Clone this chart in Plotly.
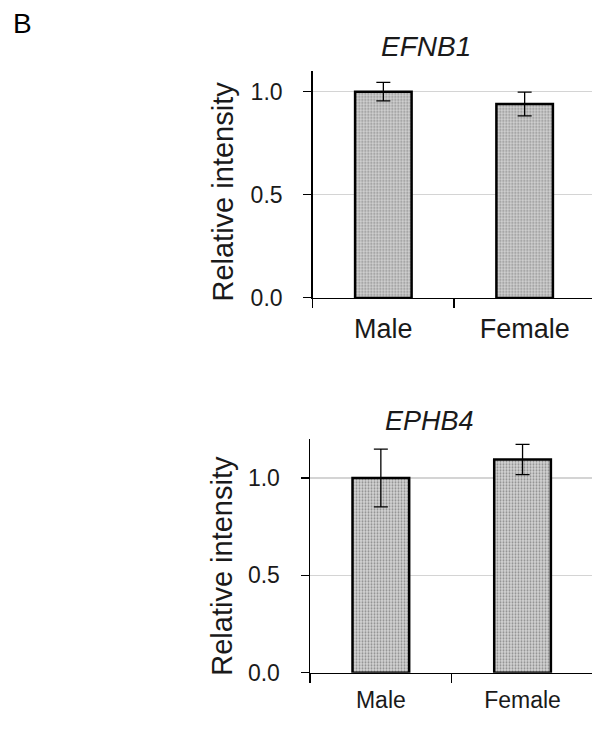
import plotly.graph_objects as go

categories = ["Male", "Female"]
efnb1_values = [1.00, 0.94]
efnb1_errors = [0.045, 0.058]
ephb4_values = [1.00, 1.095]
ephb4_errors = [0.148, 0.078]
y_tick_vals = [0.0, 0.5, 1.0]
y_tick_text = ["0.0", "0.5", "1.0"]

W, H = 592, 729
FONT = "Liberation Sans, Arial, sans-serif"

fig = go.Figure()

def add_bars(vals, errs, xa, ya):
    fig.add_trace(go.Bar(
        x=list(range(len(categories))), y=vals,
        width=0.40,
        marker=dict(color="#cfcfcf",
                    line=dict(color="black", width=2.5),
                    pattern=dict(shape=".", fgcolor="#8a8a8a", bgcolor="#d4d4d4",
                                 size=3, solidity=0.35, fillmode="replace")),
        error_y=dict(type="data", array=errs, visible=True, color="black",
                     thickness=1.3, width=7),
        xaxis=xa, yaxis=ya, showlegend=False, hoverinfo="skip"))

add_bars(efnb1_values, efnb1_errors, "x", "y")
add_bars(ephb4_values, ephb4_errors, "x2", "y2")

def px_x(p):
    return p / W

def px_y(p):
    return 1 - p / H

# panel geometry (pixels)
t_left, t_zero, t_top = 312.7, 303.3, 72.7
t_step = 141.3
b_left, b_zero, b_top = 310.0, 685.0, 446.7
b_step = 141.7

def xaxis_cfg(left, step, label_size):
    return dict(
        domain=[px_x(left), 1.0],
        range=[-0.5, -0.5 + (W - left) / step],
        tickmode="array", tickvals=list(range(len(categories))), ticktext=categories,
        ticks="", showgrid=False, zeroline=False,
        showline=True, linecolor="black", linewidth=1.5,
        tickfont=dict(family=FONT, size=label_size, color="#1a1a1a"),
        ticklabelstandoff=6,
        minor=dict(tickmode="array", tickvals=[-0.5, 0.5], ticks="outside",
                   ticklen=9, tickcolor="black", tickwidth=1.3, showgrid=False),
    )

def yaxis_cfg(zero, top, rng_top, tick_size):
    return dict(
        domain=[px_y(zero), px_y(top)],
        range=[0, rng_top],
        tickmode="array", tickvals=y_tick_vals, ticktext=y_tick_text,
        ticks="outside", ticklen=8, tickcolor="black", tickwidth=1.2,
        showgrid=True, gridcolor="#d4d4d4", gridwidth=1.2,
        zeroline=False, showline=True, linecolor="black", linewidth=1.5,
        tickfont=dict(family=FONT, size=tick_size, color="#1a1a1a"),
        ticklabelstandoff=16,
    )

fig.update_layout(
    width=W, height=H,
    margin=dict(l=0, r=0, t=0, b=0),
    paper_bgcolor="white", plot_bgcolor="white",
    bargap=0,
    xaxis=xaxis_cfg(t_left, t_step, 27),
    yaxis=yaxis_cfg(t_zero, t_top, (t_zero - t_top) / 210.0, 23),
    xaxis2=xaxis_cfg(b_left, b_step, 23),
    yaxis2=yaxis_cfg(b_zero, b_top, (b_zero - b_top) / 198.3, 23),
)
fig.layout.xaxis2.anchor = "y2"
fig.layout.yaxis2.anchor = "x2"

annotations = [
    dict(text="B", x=px_x(22.5), y=px_y(24), xanchor="center", yanchor="middle",
         font=dict(family=FONT, size=28, color="black")),
    dict(text="<i>EFNB1</i>", x=px_x(426), y=px_y(47), xanchor="center", yanchor="middle",
         font=dict(family=FONT, size=28, color="#1a1a1a")),
    dict(text="<i>EPHB4</i>", x=px_x(429), y=px_y(429), xanchor="center", yanchor="middle",
         font=dict(family=FONT, size=27, color="#1a1a1a")),
    dict(text="Relative intensity", x=px_x(223), y=px_y(195), textangle=-90,
         xanchor="center", yanchor="middle",
         font=dict(family=FONT, size=29, color="#1a1a1a")),
    dict(text="Relative intensity", x=px_x(222), y=px_y(576), textangle=-90,
         xanchor="center", yanchor="middle",
         font=dict(family=FONT, size=29, color="#1a1a1a")),
]
for a in annotations:
    a.update(xref="paper", yref="paper", showarrow=False)
fig.update_layout(annotations=annotations)

fig.write_html(
    "out.html",
    config={"displayModeBar": False, "staticPlot": True},
    post_script=(
        "document.documentElement.style.margin='0';"
        "document.documentElement.style.padding='0';"
        "document.documentElement.style.overflow='hidden';"
        "document.body.style.margin='0';"
        "document.body.style.padding='0';"
        "document.body.style.overflow='hidden';"
        "var gd=document.getElementById('{plot_id}');"
        "gd.style.position='fixed';gd.style.left='0px';gd.style.top='0px';"
        "var vh=window.innerHeight||729;"
        "if(Math.abs(vh-729)>2&&vh>600&&vh<900){Plotly.relayout(gd,{height:vh});}"
    ),
)
